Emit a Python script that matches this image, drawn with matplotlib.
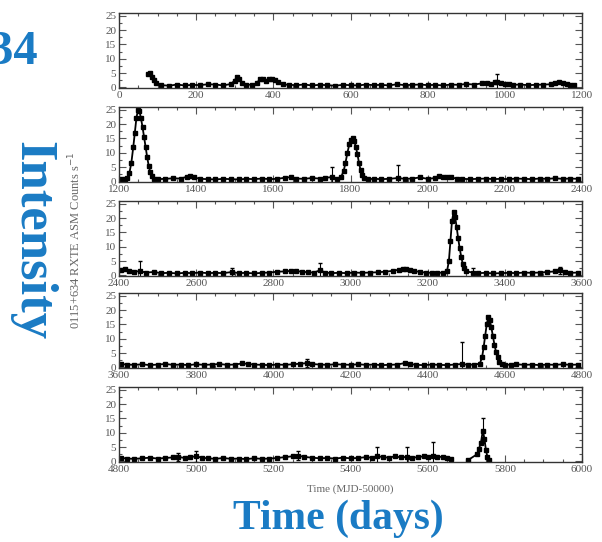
import matplotlib
matplotlib.use('Agg')
import matplotlib.pyplot as plt
import numpy as np
from matplotlib.ticker import MultipleLocator

# light curve, one list of (day, rate) per 1200-day strip
strip1 = [(76, 4.6), (80, 5.2), (85, 3.8), (90, 2.6), (96, 1.4), (110, 0.8), (130, 0.6), (150, 1.0),
          (170, 0.7), (190, 0.9), (210, 0.8), (230, 1.1), (250, 1.0), (270, 0.7), (290, 1.2), (300, 2.4),
          (305, 3.7), (310, 3.0), (318, 1.6), (330, 1.0), (345, 0.9), (358, 1.5), (365, 3.0), (372, 2.8),
          (380, 2.2), (388, 3.1), (396, 2.9), (404, 2.6), (412, 1.8), (425, 1.1), (440, 0.9), (460, 0.8),
          (480, 1.0), (500, 0.7), (520, 0.9), (540, 0.8), (560, 0.6), (580, 0.9), (600, 0.8), (620, 0.7),
          (640, 1.0), (660, 0.8), (680, 0.9), (700, 0.7), (720, 1.1), (740, 0.8), (760, 0.9), (780, 1.0),
          (800, 0.8), (820, 0.9), (840, 0.7), (860, 1.0), (880, 0.9), (900, 1.2), (920, 1.0), (940, 1.4),
          (955, 1.6), (965, 1.3), (975, 1.8), (980, 2.0), (990, 1.5), (1000, 1.2), (1010, 1.1), (1020, 0.9),
          (1040, 1.0), (1060, 0.8), (1080, 0.9), (1100, 1.0), (1120, 1.1), (1130, 1.4), (1140, 1.9),
          (1150, 1.6), (1160, 1.2), (1170, 1.0), (1180, 0.8)]

strip2 = [(1205, 0.9), (1215, 0.8), (1222, 1.2), (1227, 3.0), (1232, 6.5), (1237, 12), (1241, 17), (1245, 22),
          (1249, 25), (1253, 24.5), (1257, 22), (1261, 19), (1265, 15.5), (1269, 12), (1273, 8.5), (1277, 5.5),
          (1281, 3.2), (1285, 1.8), (1290, 1.0), (1300, 0.8), (1320, 0.9), (1340, 1.1), (1360, 1.0), (1375, 1.6),
          (1385, 2.0), (1395, 1.4), (1410, 0.9), (1430, 0.8), (1450, 0.7), (1470, 0.9), (1490, 0.8), (1510, 0.7),
          (1530, 0.9), (1550, 0.8), (1570, 1.0), (1590, 0.8), (1610, 0.9), (1630, 1.3), (1645, 1.5), (1660, 1.0),
          (1680, 0.9), (1700, 1.2), (1720, 1.0), (1735, 1.3), (1752, 1.5), (1765, 1.0), (1775, 1.4), (1782, 3.5),
          (1787, 6.5), (1792, 10), (1797, 13), (1802, 14.5), (1806, 15), (1810, 14), (1814, 12), (1818, 9.5),
          (1822, 6.5), (1826, 4), (1830, 2.2), (1836, 1.2), (1845, 0.8), (1860, 0.9), (1880, 0.8), (1900, 0.9),
          (1923, 1.2), (1940, 0.9), (1960, 1.0), (1980, 1.4), (2000, 0.9), (2020, 1.2), (2030, 1.8), (2040, 1.5),
          (2050, 1.7), (2060, 1.4), (2075, 1.0), (2090, 0.9), (2110, 0.8), (2130, 0.9), (2150, 1.0), (2170, 0.8),
          (2190, 0.9), (2210, 0.8), (2230, 1.0), (2250, 0.9), (2270, 0.8), (2290, 1.0), (2310, 0.9), (2330, 1.1),
          (2350, 0.9), (2370, 1.0), (2390, 0.9)]

strip3 = [(2405, 1.8), (2415, 2.2), (2425, 1.6), (2440, 1.3), (2454, 1.5), (2470, 1.0), (2490, 1.2), (2510, 0.8),
          (2530, 0.9), (2550, 0.7), (2570, 0.9), (2590, 0.8), (2610, 1.0), (2630, 0.8), (2650, 0.9), (2670, 0.8),
          (2693, 1.2), (2710, 0.8), (2730, 0.9), (2750, 0.7), (2770, 0.9), (2790, 1.0), (2810, 1.3), (2830, 1.4),
          (2845, 1.6), (2860, 1.5), (2875, 1.3), (2890, 1.1), (2905, 1.0), (2921, 1.8), (2935, 1.0), (2950, 0.8),
          (2970, 0.9), (2990, 0.8), (3010, 1.0), (3030, 0.9), (3050, 1.0), (3070, 1.1), (3090, 1.3), (3110, 1.6),
          (3125, 2.0), (3135, 2.4), (3145, 2.2), (3155, 1.8), (3165, 1.6), (3180, 1.2), (3195, 1.0), (3210, 0.9),
          (3225, 1.0), (3240, 0.9), (3250, 1.4), (3255, 5), (3259, 12), (3263, 19), (3267, 22), (3271, 20.5),
          (3275, 17), (3279, 13), (3283, 9.5), (3287, 6.5), (3291, 4), (3295, 2.5), (3300, 1.4), (3317, 1.0),
          (3330, 0.8), (3350, 0.9), (3370, 0.7), (3390, 0.8), (3410, 0.9), (3430, 0.8), (3450, 1.0), (3470, 0.9),
          (3490, 1.0), (3510, 1.2), (3530, 1.4), (3543, 1.8), (3555, 1.2), (3570, 0.9), (3590, 1.0)]

strip4 = [(3605, 1.2), (3620, 1.0), (3640, 0.9), (3660, 1.1), (3680, 0.8), (3700, 1.0), (3720, 1.2), (3740, 0.9),
          (3760, 1.0), (3780, 0.8), (3800, 1.1), (3820, 0.9), (3840, 1.0), (3860, 1.2), (3880, 0.9), (3900, 1.0),
          (3920, 1.4), (3935, 1.2), (3950, 1.0), (3970, 0.9), (3990, 0.8), (4010, 1.0), (4030, 0.9), (4050, 1.1),
          (4070, 1.3), (4087, 1.5), (4100, 1.2), (4120, 1.0), (4140, 0.9), (4160, 1.1), (4180, 1.0), (4200, 0.9),
          (4220, 1.1), (4240, 0.9), (4260, 1.0), (4280, 0.8), (4300, 0.9), (4320, 1.0), (4340, 1.5), (4355, 1.2),
          (4370, 0.9), (4390, 0.8), (4410, 1.0), (4430, 0.9), (4450, 0.8), (4470, 1.0), (4489, 1.2), (4505, 0.9),
          (4520, 1.0), (4535, 1.3), (4541, 3.5), (4545, 7), (4549, 11), (4553, 15), (4557, 17.5), (4561, 16.5),
          (4565, 14), (4569, 11), (4573, 8), (4577, 5.5), (4581, 3.5), (4586, 2), (4592, 1.2), (4600, 1.0),
          (4615, 0.9), (4630, 1.1), (4650, 0.9), (4670, 1.0), (4690, 0.8), (4710, 1.0), (4730, 0.9), (4750, 1.1),
          (4770, 0.9), (4790, 1.0)]

strip5 = [(4805, 1.3), (4820, 1.0), (4840, 0.9), (4860, 1.1), (4880, 1.3), (4900, 1.0), (4920, 1.2), (4940, 1.4),
          (4953, 1.6), (4970, 1.2), (4985, 1.5), (5000, 1.8), (5015, 1.3), (5030, 1.1), (5050, 0.9), (5070, 1.2),
          (5090, 0.9), (5110, 1.0), (5130, 0.8), (5150, 1.1), (5170, 0.9), (5190, 1.0), (5210, 1.2), (5230, 1.5),
          (5250, 1.8), (5264, 2.0), (5280, 1.6), (5300, 1.3), (5320, 1.1), (5340, 1.2), (5360, 1.0), (5380, 1.3),
          (5400, 1.1), (5420, 1.2), (5440, 1.5), (5455, 1.3), (5469, 1.8), (5485, 1.5), (5500, 1.3), (5515, 1.8),
          (5530, 1.4), (5546, 1.6), (5560, 1.3), (5575, 1.5), (5590, 1.8), (5600, 1.6), (5614, 2.0), (5625, 1.7),
          (5640, 1.5), (5650, 1.2), (5660, 0.9), (5680, np.nan), (5705, 0.5), (5728, 2.5), (5733, 4.5),
          (5738, 6.5), (5743, 10.8), (5747, 8), (5751, 4), (5755, 1.5), (5760, 0.5)]

# points with large error bars (day -> half-length)
big_err = {980: 2.6, 1752: 3.4, 1923: 4.6, 2454: 3.4, 2693: 1.3, 2921: 2.6, 3317: 1.5, 3543: 1.2,
           4087: 1.5, 4489: 7.6, 4953: 1.5, 5000: 2.0, 5264: 1.5, 5469: 3.3, 5546: 3.4, 5614: 4.8, 5743: 4.5}

strips = [strip1, strip2, strip3, strip4, strip5]
day_start = [0, 1200, 2400, 3600, 4800]

W, H = 602, 542
fig = plt.figure(figsize=(W / 100, H / 100), dpi=100)

gray = '#555555'
blue = '#1a7bc4'
tops = [13, 107, 201, 293, 387]
for k in range(5):
    ax = fig.add_axes([119 / W, 1 - (tops[k] + 75) / H, 463 / W, 75 / H])
    d, r = zip(*strips[k])
    d = np.array(d, float)
    r = np.array(r, float)
    e = np.array([big_err.get(int(x), 0.35) for x in d])
    ax.errorbar(d, r, yerr=e, fmt='s-', color='black', ms=2.4, lw=1.3,
                elinewidth=0.8, capsize=1.5)
    ax.set_xlim(day_start[k], day_start[k] + 1200)
    ax.set_ylim(-0.2, 26)
    ax.xaxis.set_major_locator(MultipleLocator(200))
    ax.xaxis.set_minor_locator(MultipleLocator(50))
    ax.yaxis.set_major_locator(MultipleLocator(5))
    ax.yaxis.set_minor_locator(MultipleLocator(2.5))
    ax.tick_params(which='both', direction='in', top=True, right=True, colors=gray,
                   labelsize=8, labelcolor=gray, width=0.8)
    ax.tick_params(which='major', length=5, pad=2)
    ax.tick_params(which='minor', length=2.5)
    for lab in ax.get_xticklabels() + ax.get_yticklabels():
        lab.set_family('Liberation Serif')
    for s in ax.spines.values():
        s.set_color('#333333')
        s.set_linewidth(1)

fig.text(75 / W, 1 - 240 / H, '0115+634 RXTE ASM Counts s$^{-1}$', rotation=90,
         ha='center', va='center', fontsize=9, color='#666666', family='Liberation Serif')
fig.text(350 / W, 1 - 489 / H, 'Time (MJD-50000)', ha='center', va='center',
         fontsize=8, color='#666666', family='Liberation Serif')

fig.text(38 / W, 1 - 64 / H, '4U 0115+634', ha='right', va='baseline', fontsize=35,
         color=blue, weight='bold', family='Liberation Serif')
fig.text(32 / W, 1 - 241 / H, 'Intensity', rotation=270, ha='center', va='center',
         fontsize=38, color=blue, weight='bold', family='Liberation Serif')
fig.text(338 / W, 1 - 519 / H, 'Time (days)', ha='center', va='center', fontsize=30,
         color=blue, weight='bold', family='Liberation Serif',
         bbox=dict(facecolor='white', edgecolor='none', pad=1))

plt.savefig('out.png', dpi=100)
